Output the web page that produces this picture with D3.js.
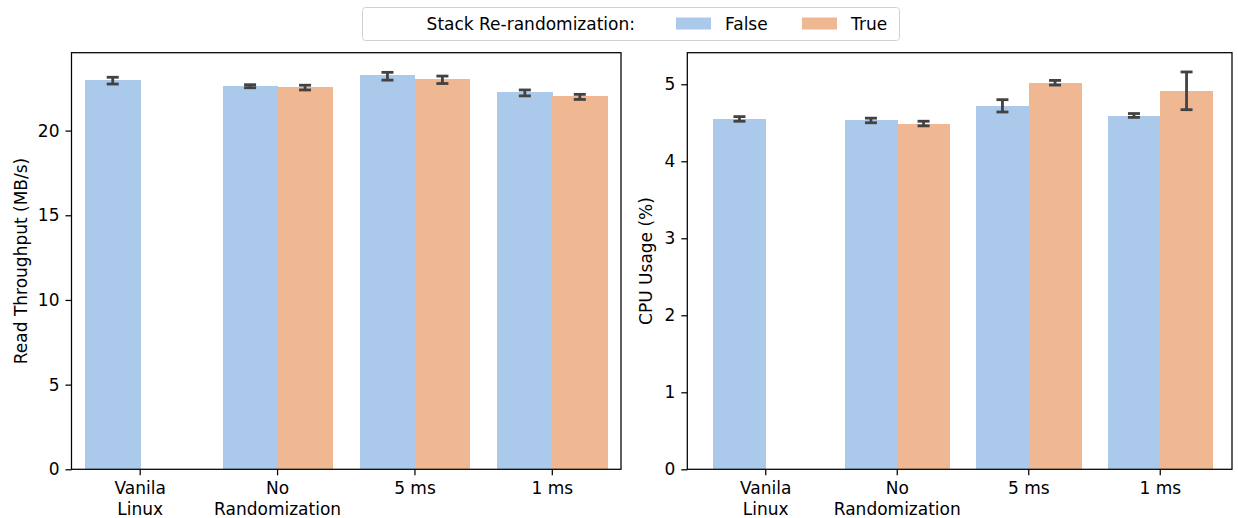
<!DOCTYPE html>
<html lang="en">
  <head>
    <meta charset="utf-8">
    <title>Stack re-randomization overhead</title>
    <style>
      body {margin: 0; background: #fff;}
      svg {display: block; font-family: "DejaVu Sans", sans-serif;}
      .axis text {font-size: 17px; fill: #000; font-family: "DejaVu Sans", sans-serif;}
      .axis line, .axis path {stroke: #000; stroke-width: 1.25;}
      .label {font-size: 17px; text-anchor: middle;}
      .bar {shape-rendering: crispEdges;}
      .err {stroke: #424242; stroke-width: 2.8; fill: none;}
    </style>
    <script src="https://d3js.org/d3.v7.min.js"></script>
  </head>
  <body>
    <script>
      // categories and series
      var categories = ["Vanila\nLinux", "No\nRandomization", "5 ms", "1 ms"];
      var seriesNames = ["False", "True"];

      var throughputFalse = [22.97, 22.62, 23.27, 22.26];
      var throughputTrue = [null, 22.56, 23.03, 22.03];
      var throughputFalseErr = [[22.75, 23.15], [22.53, 22.71], [22.98, 23.44], [22.05, 22.40]];
      var throughputTrueErr = [null, [22.40, 22.68], [22.78, 23.22], [21.84, 22.14]];

      var cpuFalse = [4.55, 4.53, 4.72, 4.59];
      var cpuTrue = [null, 4.49, 5.02, 4.91];
      var cpuFalseErr = [[4.52, 4.58], [4.50, 4.56], [4.64, 4.80], [4.57, 4.62]];
      var cpuTrueErr = [null, [4.46, 4.52], [4.99, 5.05], [4.67, 5.16]];

      var throughputTicks = [0, 5, 10, 15, 20];
      var cpuTicks = [0, 1, 2, 3, 4, 5];

      var colors = ["#abc9ea", "#efb792"];
      var W = 1238, H = 518;
      var plotTop = 52.7, plotBottom = 469.3;

      var svg = d3.select("body").append("svg")
        .attr("width", W)
        .attr("height", H);

      function panel(opt) {
        var g = svg.append("g");
        var x = d3.scaleBand().domain(categories).range(opt.band);
        var y = d3.scaleLinear().domain([0, opt.ymax]).range([plotBottom, plotTop]);
        var sub = d3.scaleBand().domain(seriesNames).range([0, x.bandwidth()]).paddingOuter(0.25);

        var series = [
          {name: "False", vals: opt.f, err: opt.fe},
          {name: "True", vals: opt.t, err: opt.te}
        ];

        series.forEach(function(s, si) {
          var rows = categories.map(function(c, i) {
            return {cat: c, v: s.vals[i], e: s.err[i]};
          }).filter(function(d) { return d.v != null; });

          g.selectAll(null).data(rows).enter().append("rect")
            .attr("class", "bar")
            .attr("x", function(d) { return x(d.cat) + sub(s.name); })
            .attr("y", function(d) { return y(d.v); })
            .attr("width", sub.bandwidth() + 0.5)
            .attr("height", function(d) { return y(0) - y(d.v); })
            .attr("fill", colors[si]);

          // error bars with caps
          var cap = 6;
          var eg = g.selectAll(null).data(rows).enter().append("g").attr("class", "err");
          var cx = function(d) { return x(d.cat) + sub(s.name) + sub.bandwidth() / 2; };
          eg.append("line")
            .attr("x1", cx).attr("x2", cx)
            .attr("y1", function(d) { return y(d.e[0]); })
            .attr("y2", function(d) { return y(d.e[1]); });
          [0, 1].forEach(function(k) {
            eg.append("line")
              .attr("x1", function(d) { return cx(d) - cap; })
              .attr("x2", function(d) { return cx(d) + cap; })
              .attr("y1", function(d) { return y(d.e[k]); })
              .attr("y2", function(d) { return y(d.e[k]); });
          });
        });

        // y axis
        g.append("g").attr("class", "axis")
          .attr("transform", "translate(" + opt.left + ",0)")
          .call(d3.axisLeft(y).tickValues(opt.ticks).tickFormat(d3.format("d"))
            .tickSize(6).tickPadding(6).tickSizeOuter(0))
          .call(function(a) { a.select(".domain").remove(); });

        // x axis with two line labels
        var xa = g.append("g").attr("class", "axis")
          .attr("transform", "translate(0," + plotBottom + ")")
          .call(d3.axisBottom(x).tickSize(6).tickPadding(6).tickSizeOuter(0));
        xa.select(".domain").remove();
        xa.selectAll(".tick text").each(function(d) {
          var t = d3.select(this).text(null).attr("dy", null).attr("y", 9);
          d.split("\n").forEach(function(line, i) {
            t.append("tspan").attr("x", 0).attr("dy", i === 0 ? "0.95em" : "1.2em").text(line);
          });
        });

        // frame
        g.append("rect")
          .attr("x", opt.left).attr("y", plotTop)
          .attr("width", opt.right - opt.left).attr("height", plotBottom - plotTop)
          .attr("fill", "none").attr("stroke", "#000").attr("stroke-width", 1.25);

        g.append("text").attr("class", "label")
          .attr("transform", "translate(" + opt.labelX + "," + ((plotTop + plotBottom) / 2) + ") rotate(-90)")
          .text(opt.label);
      }

      panel({band: [71.5, 621], left: 71.5, right: 621, ymax: 24.6,
        f: throughputFalse, t: throughputTrue, fe: throughputFalseErr, te: throughputTrueErr,
        ticks: throughputTicks, label: "Read Throughput (MB/s)", labelX: 27});

      panel({band: [700, 1226], left: 687.3, right: 1232, ymax: 5.41,
        f: cpuFalse, t: cpuTrue, fe: cpuFalseErr, te: cpuTrueErr,
        ticks: cpuTicks, label: "CPU Usage (%)", labelX: 652});

      // legend
      var lg = svg.append("g");
      lg.append("rect")
        .attr("x", 362.5).attr("y", 7.5).attr("width", 537).attr("height", 33)
        .attr("rx", 3).attr("fill", "#fff").attr("stroke", "#d0d0d0");
      lg.append("text").attr("x", 635).attr("y", 30)
        .attr("text-anchor", "end").style("font-size", "17px")
        .text("Stack Re-randomization:");
      var legX = [676, 802];
      seriesNames.forEach(function(n, i) {
        lg.append("rect").attr("x", legX[i]).attr("y", 17.5)
          .attr("width", 35).attr("height", 12).attr("fill", colors[i]);
        lg.append("text").attr("x", legX[i] + 49).attr("y", 30)
          .style("font-size", "17px").text(n);
      });
    </script>
  </body>
</html>
